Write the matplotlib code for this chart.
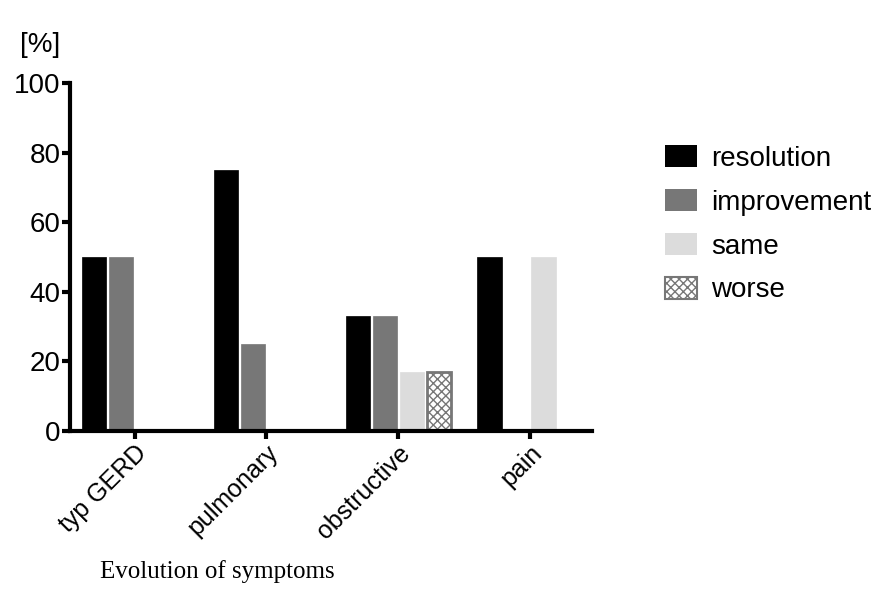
import numpy as np
import matplotlib.pyplot as plt
from matplotlib.patches import Patch

plt.rcParams['font.family'] = ['Liberation Sans', 'DejaVu Sans']

categories = ["typ GERD", "pulmonary", "obstructive", "pain"]
series = ["resolution", "improvement", "same", "worse"]
resolution = [50, 75, 33, 50]
improvement = [50, 25, 33, 0]
same = [0, 0, 17, 50]
worse = [0, 0, 17, 0]

values = [resolution, improvement, same, worse]
faces = ["black", "#777777", "#dcdcdc", "white"]
edges = ["black", "#777777", "#dcdcdc", "#777777"]
hatches = [None, None, None, "xxxx"]

fig = plt.figure(figsize=(8.81, 6.13), dpi=100)
ax = fig.add_axes([70/881, 1 - 431/613, (592-70)/881, (431-83)/613])

x = np.arange(len(categories))
step = 0.205
width = 0.185
plt.rcParams['hatch.color'] = '#555555'
for i, vals in enumerate(values):
    ax.bar(x + (i - 1.5) * step, vals, width, color=faces[i], edgecolor=edges[i],
           hatch=hatches[i], linewidth=2 if i == 3 else 0.5)

ax.set_xlim(-0.49, 3.47)
ax.set_ylim(0, 100)
ax.set_yticks([0, 20, 40, 60, 80, 100])
ax.set_xticks(x)
ax.set_xticklabels(categories, rotation=45, ha="right", rotation_mode="anchor")
for s in ["top", "right"]:
    ax.spines[s].set_visible(False)
for s in ["left", "bottom"]:
    ax.spines[s].set_linewidth(3)
ax.tick_params(width=3, length=6, labelsize=20, pad=1)
ax.tick_params(axis="x", labelsize=18)

handles = [Patch(facecolor=faces[i], edgecolor=edges[i], hatch=hatches[i],
                 linewidth=1.5 if i == 3 else 0) for i in range(4)]
fig.legend(handles, series, loc="upper left", bbox_to_anchor=(640/881, 1 - 120/613),
           frameon=False, fontsize=20, handlelength=1.15, handleheight=0.85,
           labelspacing=0.62, handletextpad=0.5)

fig.text(20/881, 1 - 45/613, "[%]", fontsize=20, va="center")
fig.text(100/881, 1 - 572/613, "Evolution of symptoms", fontsize=18,
         family="Liberation Serif", va="center")

plt.savefig("out.png", dpi=100)
